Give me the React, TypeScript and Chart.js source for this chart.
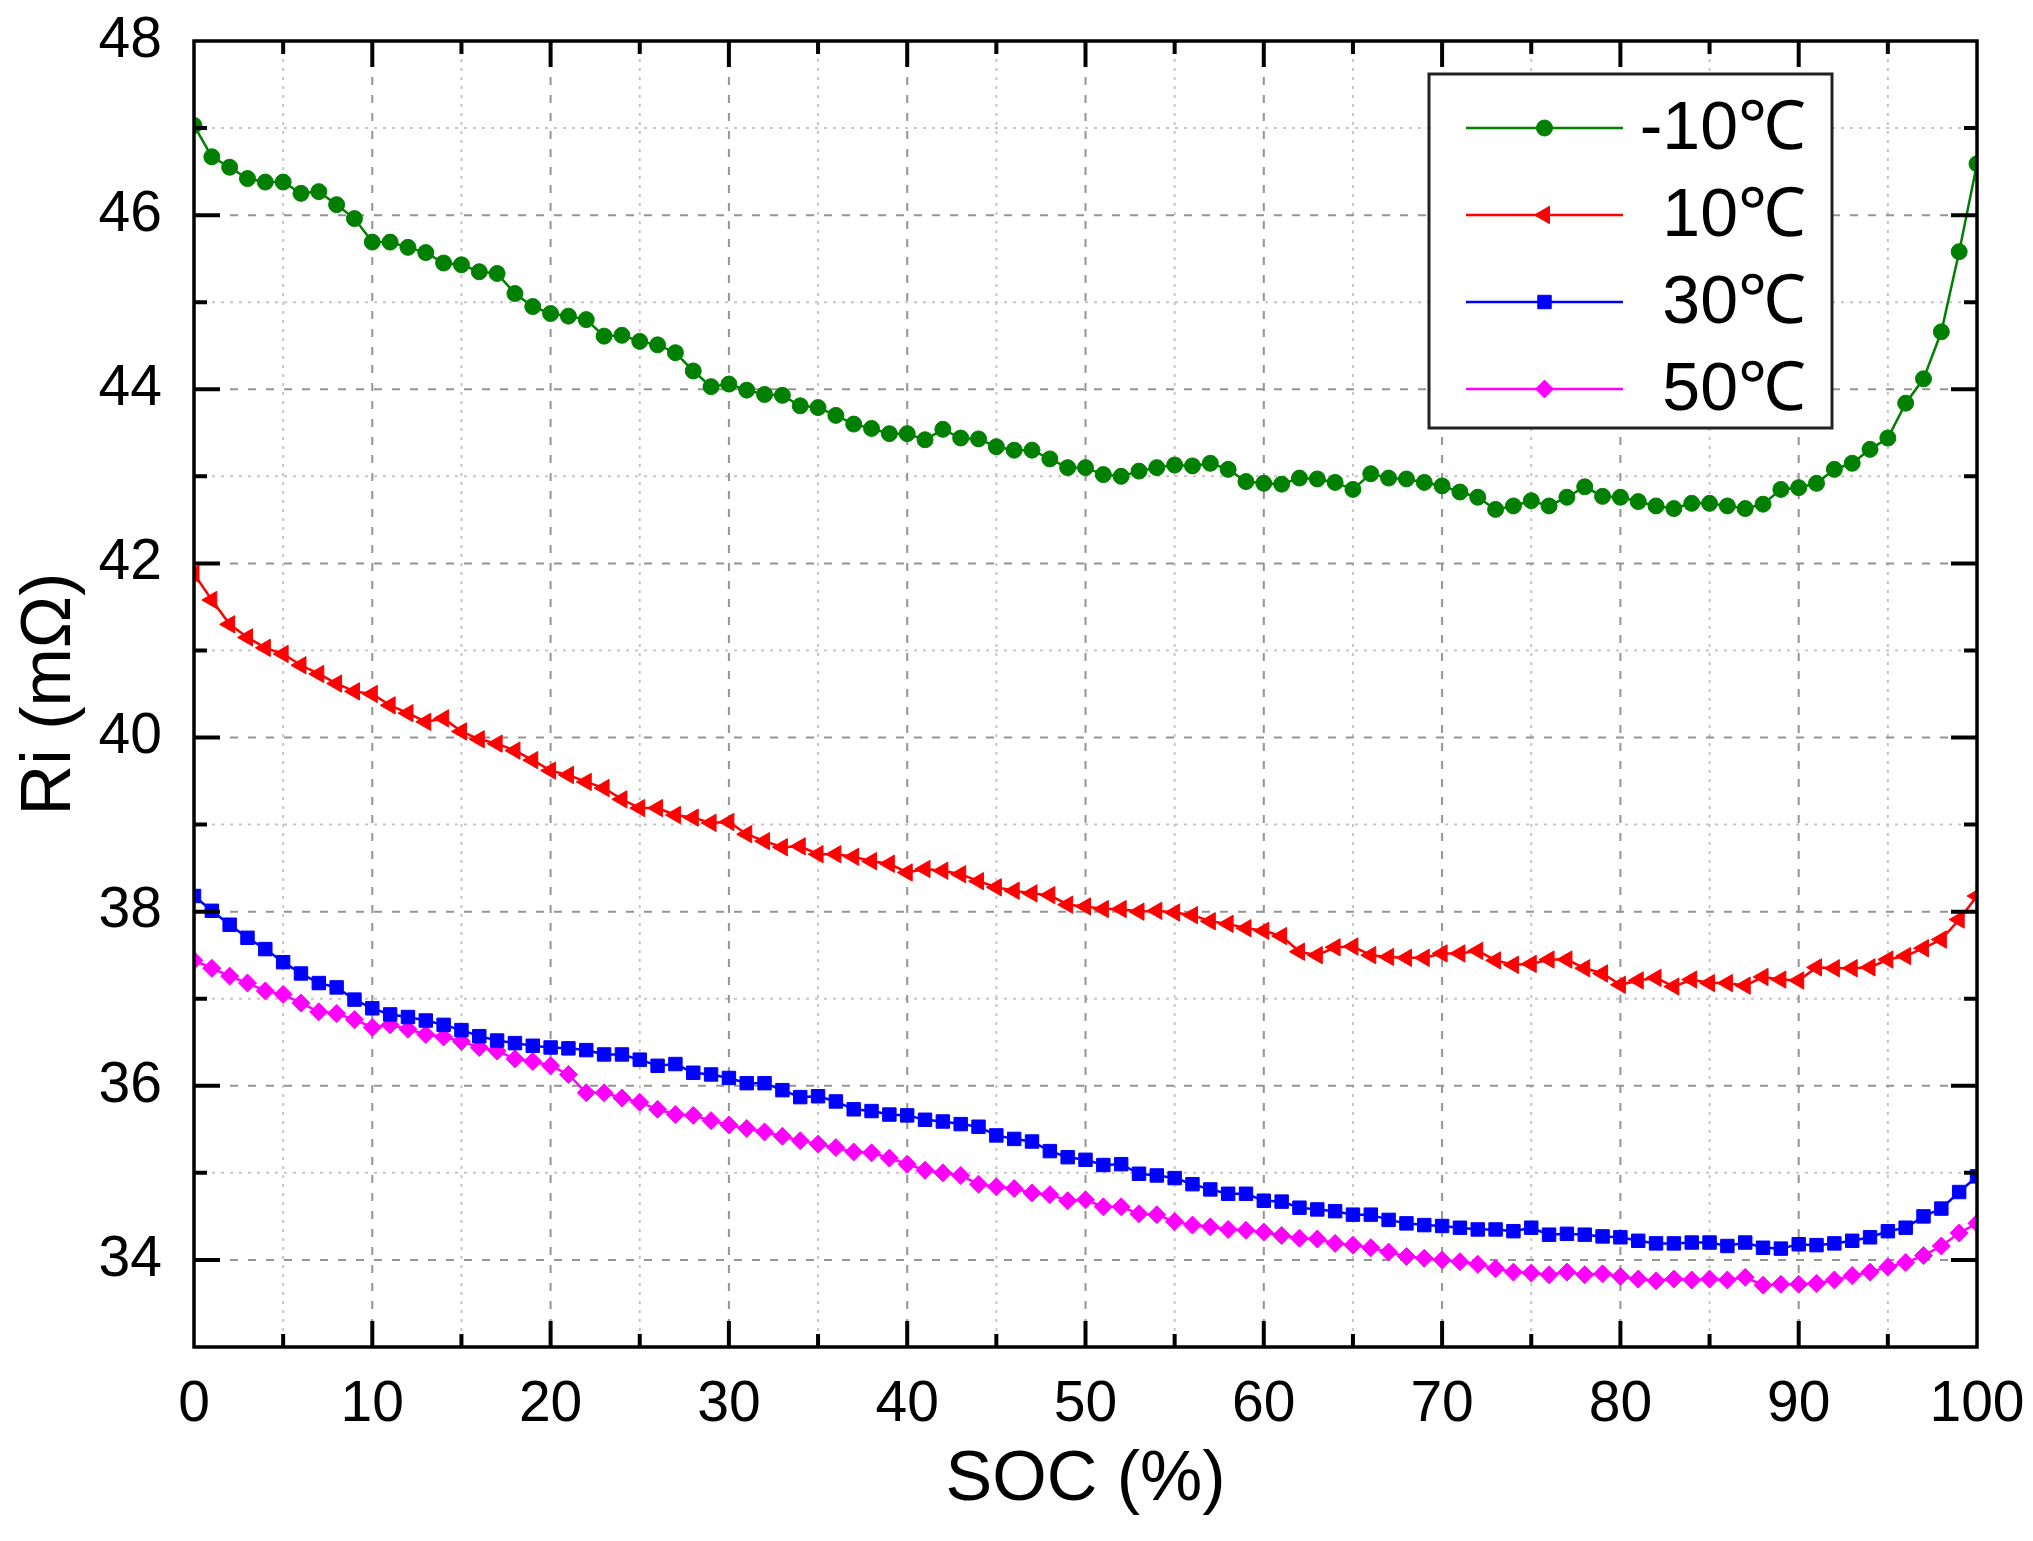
import { useEffect, useRef } from 'react';
import { Chart, registerables, Plugin } from 'chart.js';
import { drawPoint } from 'chart.js/helpers';

Chart.register(...registerables);

const FONT = "'Liberation Sans', Arial, Helvetica, sans-serif";

// SOC (%) sampled every 1 %
const soc = [
  0, 1, 2, 3, 4, 5, 6, 7, 8, 9, 10, 11, 12, 13, 14, 15, 16, 17, 18, 19, 20,
  21, 22, 23, 24, 25, 26, 27, 28, 29, 30, 31, 32, 33, 34, 35, 36, 37, 38, 39, 40,
  41, 42, 43, 44, 45, 46, 47, 48, 49, 50, 51, 52, 53, 54, 55, 56, 57, 58, 59, 60,
  61, 62, 63, 64, 65, 66, 67, 68, 69, 70, 71, 72, 73, 74, 75, 76, 77, 78, 79, 80,
  81, 82, 83, 84, 85, 86, 87, 88, 89, 90, 91, 92, 93, 94, 95, 96, 97, 98, 99, 100,
];

// Ri (mΩ) at -10 ℃
const riMinus10 = [
  47.03, 46.67, 46.55, 46.42, 46.38, 46.38, 46.25, 46.27, 46.12, 45.96, 45.69,
  45.69, 45.63, 45.57, 45.45, 45.43, 45.35, 45.33, 45.10, 44.95, 44.87,
  44.84, 44.80, 44.61, 44.62, 44.55, 44.51, 44.42, 44.21, 44.03, 44.06,
  43.99, 43.94, 43.93, 43.81, 43.79, 43.70, 43.60, 43.55, 43.49, 43.49,
  43.42, 43.54, 43.44, 43.43, 43.34, 43.30, 43.30, 43.20, 43.10, 43.10,
  43.02, 43.00, 43.06, 43.10, 43.13, 43.12, 43.15, 43.08, 42.94, 42.92,
  42.91, 42.98, 42.97, 42.93, 42.85, 43.03, 42.98, 42.97, 42.93, 42.89,
  42.82, 42.76, 42.62, 42.66, 42.72, 42.66, 42.76, 42.88, 42.77, 42.76,
  42.71, 42.66, 42.63, 42.69, 42.69, 42.66, 42.63, 42.68, 42.85, 42.87,
  42.92, 43.08, 43.15, 43.31, 43.44, 43.84, 44.12, 44.66, 45.58, 46.59,
];

// Ri (mΩ) at 10 ℃
const ri10 = [
  41.88, 41.58, 41.30, 41.15, 41.03, 40.96, 40.83, 40.73, 40.62, 40.53, 40.50,
  40.37, 40.28, 40.18, 40.22, 40.07, 39.98, 39.93, 39.85, 39.74, 39.62,
  39.57, 39.49, 39.42, 39.29, 39.19, 39.19, 39.11, 39.08, 39.02, 39.03,
  38.89, 38.81, 38.74, 38.75, 38.66, 38.66, 38.63, 38.58, 38.55, 38.45,
  38.49, 38.47, 38.43, 38.35, 38.28, 38.24, 38.21, 38.19, 38.08, 38.06,
  38.03, 38.03, 38.00, 38.01, 37.99, 37.96, 37.89, 37.86, 37.81, 37.78,
  37.72, 37.54, 37.50, 37.59, 37.60, 37.50, 37.48, 37.47, 37.47, 37.52,
  37.52, 37.55, 37.44, 37.39, 37.40, 37.45, 37.45, 37.35, 37.29, 37.16,
  37.21, 37.24, 37.14, 37.22, 37.18, 37.18, 37.15, 37.25, 37.22, 37.21,
  37.36, 37.35, 37.35, 37.36, 37.45, 37.49, 37.58, 37.68, 37.91, 38.18,
];

// Ri (mΩ) at 30 ℃
const ri30 = [
  38.18, 38.01, 37.85, 37.70, 37.57, 37.42, 37.29, 37.18, 37.13, 36.99, 36.89,
  36.82, 36.79, 36.75, 36.70, 36.64, 36.57, 36.52, 36.49, 36.46, 36.44,
  36.43, 36.41, 36.36, 36.36, 36.30, 36.23, 36.25, 36.15, 36.13, 36.09,
  36.03, 36.03, 35.95, 35.87, 35.88, 35.82, 35.73, 35.71, 35.67, 35.66,
  35.61, 35.59, 35.56, 35.53, 35.43, 35.39, 35.36, 35.25, 35.18, 35.15,
  35.09, 35.10, 34.99, 34.97, 34.94, 34.87, 34.81, 34.76, 34.76, 34.68,
  34.67, 34.60, 34.58, 34.56, 34.52, 34.52, 34.46, 34.42, 34.40, 34.39,
  34.37, 34.35, 34.35, 34.33, 34.37, 34.29, 34.30, 34.29, 34.27, 34.26,
  34.22, 34.19, 34.19, 34.20, 34.20, 34.16, 34.20, 34.14, 34.13, 34.18,
  34.17, 34.19, 34.22, 34.26, 34.33, 34.37, 34.50, 34.59, 34.78, 34.96,
];

// Ri (mΩ) at 50 ℃
const ri50 = [
  37.44, 37.35, 37.26, 37.18, 37.09, 37.05, 36.95, 36.85, 36.83, 36.76, 36.67,
  36.70, 36.65, 36.59, 36.56, 36.51, 36.44, 36.40, 36.31, 36.28, 36.23,
  36.13, 35.92, 35.92, 35.86, 35.81, 35.73, 35.67, 35.66, 35.60, 35.55,
  35.51, 35.47, 35.42, 35.37, 35.33, 35.29, 35.24, 35.23, 35.17, 35.10,
  35.03, 35.00, 34.97, 34.87, 34.84, 34.82, 34.77, 34.75, 34.68, 34.69,
  34.61, 34.61, 34.53, 34.52, 34.44, 34.40, 34.38, 34.35, 34.34, 34.32,
  34.28, 34.25, 34.24, 34.19, 34.17, 34.14, 34.09, 34.04, 34.02, 34.00,
  33.98, 33.95, 33.90, 33.86, 33.85, 33.83, 33.86, 33.83, 33.84, 33.81,
  33.78, 33.76, 33.78, 33.77, 33.78, 33.77, 33.80, 33.71, 33.72, 33.72,
  33.73, 33.77, 33.82, 33.86, 33.92, 33.97, 34.05, 34.16, 34.31, 34.42,
];

const seriesLabels = ['-10℃', '10℃', '30℃', '50℃'];

const xTicks = [0, 10, 20, 30, 40, 50, 60, 70, 80, 90, 100];
const xMinor = [5, 15, 25, 35, 45, 55, 65, 75, 85, 95];
const yTicks = [34, 36, 38, 40, 42, 44, 46, 48];
const yMinor = [35, 37, 39, 41, 43, 45, 47];

const toPoints = (values: number[]) => soc.map((x, i) => ({ x, y: values[i] }));

// grid, frame, inward ticks and the boxed legend, all placed through the chart's scales
const framePlugin: Plugin<'line'> = {
  id: 'originFrame',
  beforeDatasetsDraw(chart) {
    const { ctx, chartArea, scales } = chart;
    const { left, right, top, bottom } = chartArea;
    const x = scales.x;
    const y = scales.y;
    ctx.save();
    ctx.lineWidth = 2;

    // minor: dotted light grey
    ctx.strokeStyle = '#c6c6c6';
    ctx.setLineDash([3, 6]);
    ctx.beginPath();
    xMinor.forEach((v) => {
      const px = x.getPixelForValue(v);
      ctx.moveTo(px, top);
      ctx.lineTo(px, bottom);
    });
    yMinor.forEach((v) => {
      const py = y.getPixelForValue(v);
      ctx.moveTo(left, py);
      ctx.lineTo(right, py);
    });
    ctx.stroke();

    // major: dashed grey
    ctx.strokeStyle = '#949494';
    ctx.setLineDash([8, 10]);
    ctx.beginPath();
    xTicks.slice(1, -1).forEach((v) => {
      const px = x.getPixelForValue(v);
      ctx.moveTo(px, top);
      ctx.lineTo(px, bottom);
    });
    yTicks.slice(0, -1).forEach((v) => {
      const py = y.getPixelForValue(v);
      ctx.moveTo(left, py);
      ctx.lineTo(right, py);
    });
    ctx.stroke();
    ctx.restore();
  },
  afterDatasetsDraw(chart) {
    const { ctx, chartArea, scales } = chart;
    const { left, right, top, bottom } = chartArea;
    const x = scales.x;
    const y = scales.y;
    ctx.save();
    ctx.setLineDash([]);
    ctx.strokeStyle = '#000';

    ctx.lineWidth = 4;
    ctx.beginPath();
    const tick = (vals: number[], len: number) => {
      vals.forEach((v) => {
        const px = x.getPixelForValue(v);
        ctx.moveTo(px, bottom);
        ctx.lineTo(px, bottom - len);
        ctx.moveTo(px, top);
        ctx.lineTo(px, top + len);
      });
    };
    const tickY = (vals: number[], len: number) => {
      vals.forEach((v) => {
        const py = y.getPixelForValue(v);
        ctx.moveTo(left, py);
        ctx.lineTo(left + len, py);
        ctx.moveTo(right, py);
        ctx.lineTo(right - len, py);
      });
    };
    tick(xTicks.slice(1, -1), 26);
    tick(xMinor, 13);
    tickY(yTicks.slice(0, -1), 26);
    tickY(yMinor, 13);
    ctx.stroke();

    ctx.lineWidth = 3.5;
    ctx.strokeRect(left, top, right - left, bottom - top);
    ctx.restore();
  },
  afterDraw(chart) {
    const { ctx, chartArea } = chart;
    // legend box anchored to the top-right corner of the plot
    const boxRight = chartArea.right - 145;
    const boxLeft = boxRight - 403;
    const boxTop = chartArea.top + 33;
    const rowGap = 87;
    const boxBottom = boxTop + 354;

    ctx.save();
    ctx.fillStyle = '#fff';
    ctx.fillRect(boxLeft, boxTop, boxRight - boxLeft, boxBottom - boxTop);
    ctx.strokeStyle = '#222';
    ctx.lineWidth = 3;
    ctx.setLineDash([]);
    ctx.strokeRect(boxLeft, boxTop, boxRight - boxLeft, boxBottom - boxTop);

    chart.data.datasets.forEach((ds: any, i: number) => {
      const cy = boxTop + 54 + i * rowGap;
      const x1 = boxLeft + 37;
      const x2 = boxLeft + 194;
      ctx.strokeStyle = ds.borderColor;
      ctx.lineWidth = 2.5;
      ctx.beginPath();
      ctx.moveTo(x1, cy);
      ctx.lineTo(x2, cy);
      ctx.stroke();

      ctx.fillStyle = ds.pointBackgroundColor;
      ctx.strokeStyle = ds.pointBorderColor;
      ctx.lineWidth = 1;
      drawPoint(
        ctx,
        {
          pointStyle: ds.pointStyle,
          rotation: ds.pointRotation || 0,
          radius: ds.pointRadius,
          borderWidth: 1,
        },
        (x1 + x2) / 2,
        cy
      );

      ctx.fillStyle = '#000';
      ctx.font = `68px ${FONT}`;
      ctx.textAlign = 'right';
      ctx.textBaseline = 'middle';
      ctx.fillText(ds.label, boxRight - 26, cy + 2);
    });
    ctx.restore();
  },
};

export default function App() {
  const canvasRef = useRef<HTMLCanvasElement>(null);
  const chartRef = useRef<Chart | null>(null);

  useEffect(() => {
    document.body.style.margin = '0';
    if (!canvasRef.current) return;
    if (chartRef.current) chartRef.current.destroy();

    const makeSet = (
      label: string,
      values: number[],
      color: string,
      pointStyle: any,
      pointRadius: number,
      pointRotation = 0
    ) => ({
      label,
      data: toPoints(values),
      borderColor: color,
      backgroundColor: color,
      pointBackgroundColor: color,
      pointBorderColor: color,
      borderWidth: 2.5,
      pointStyle,
      pointRadius,
      pointRotation,
      pointBorderWidth: 1,
      pointHoverRadius: pointRadius,
      tension: 0,
    });

    chartRef.current = new Chart(canvasRef.current, {
      type: 'line',
      data: {
        datasets: [
          makeSet(seriesLabels[0], riMinus10, '#008000', 'circle', 8),
          makeSet(seriesLabels[1], ri10, '#ff0000', 'triangle', 10, -90),
          makeSet(seriesLabels[2], ri30, '#0000ff', 'rect', 9.5),
          makeSet(seriesLabels[3], ri50, '#ff00ff', 'rectRot', 9),
        ] as any,
      },
      options: {
        responsive: true,
        maintainAspectRatio: false,
        animation: false,
        events: [],
        layout: { padding: { left: 0, right: 56, top: 41, bottom: 0 } },
        plugins: {
          legend: { display: false },
          tooltip: { enabled: false },
        },
        scales: {
          x: {
            type: 'linear',
            min: 0,
            max: 100,
            afterBuildTicks: (scale: any) => {
              scale.ticks = xTicks.map((value) => ({ value }));
            },
            afterFit: (scale: any) => {
              scale.height = 194;
              scale.paddingLeft = 0;
              scale.paddingRight = 0;
            },
            grid: { display: false, drawTicks: false },
            border: { display: false },
            ticks: {
              autoSkip: false,
              maxRotation: 0,
              padding: 24,
              color: '#000',
              font: { family: FONT, size: 57 },
            },
            title: {
              display: true,
              text: 'SOC (%)',
              color: '#000',
              font: { family: FONT, size: 70 },
              padding: { top: 0, bottom: 18 },
            },
          },
          y: {
            type: 'linear',
            min: 33,
            max: 48,
            afterBuildTicks: (scale: any) => {
              scale.ticks = yTicks.map((value) => ({ value }));
            },
            afterFit: (scale: any) => {
              scale.width = 194;
              scale.paddingTop = 0;
              scale.paddingBottom = 0;
            },
            grid: { display: false, drawTicks: false },
            border: { display: false },
            ticks: {
              autoSkip: false,
              padding: 32,
              color: '#000',
              font: { family: FONT, size: 57 },
            },
            title: {
              display: true,
              text: 'Ri (mΩ)',
              color: '#000',
              font: { family: FONT, size: 70 },
              padding: { top: 9, bottom: 0 },
            },
          },
        },
      },
      plugins: [framePlugin],
    });

    return () => {
      if (chartRef.current) {
        chartRef.current.destroy();
        chartRef.current = null;
      }
    };
  }, []);

  return (
    <div style={{ width: 2033, height: 1541, position: 'relative' }}>
      <canvas ref={canvasRef} />
    </div>
  );
}
